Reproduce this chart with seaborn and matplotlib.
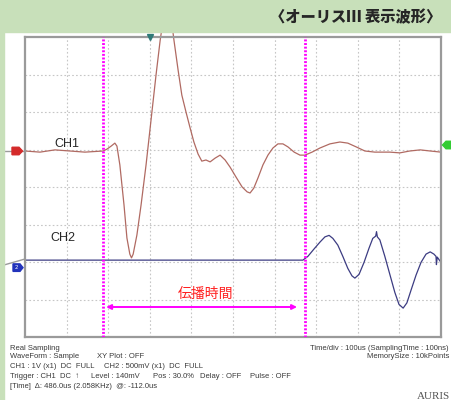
import numpy as np
import pandas as pd
import matplotlib
matplotlib.use("Agg")
import matplotlib.pyplot as plt
from matplotlib.patches import Rectangle, Polygon
from matplotlib.lines import Line2D
from matplotlib.transforms import blended_transform_factory
import seaborn as sns

# ---- acquisition settings -------------------------------------------------
T_START, T_END = -300.0, 700.0        # us, 100 us/div, trigger at 30 %
CH1_SCALE = 1.0                       # V/div
CH2_SCALE = 0.5                       # V/div
CURSOR_A = -112.0                     # us
CURSOR_DELTA = 486.0                  # us

# ---- CH1 waveform (time in us, voltage in V) -------------------------------
ch1_time = [-300, -264, -228, -192, -156, -112, -103, -93, -84, -79,
            -72, -62, -55, -48, -44, -40, -31, -21, -9, 3,
            15, 25, 34, 41, 49, 58, 68, 77, 87, 97,
            106, 116, 125, 135, 145, 157, 169, 181, 193, 207,
            222, 234, 241, 250, 260, 272, 284, 296, 308, 320,
            332, 347, 361, 373, 390, 409, 433, 457, 476, 496,
            517, 541, 577, 601, 625, 650, 674, 700]
ch1_volt = [0.0, -0.03, 0.03, 0.0, -0.03, 0.0, 0.05, 0.13, 0.21, 0.13,
            -0.37, -1.44, -2.32, -2.75, -2.85, -2.75, -2.24, -1.44, -0.37, 0.83,
            2.03, 2.96, 3.63, 3.89, 3.76, 2.96, 2.16, 1.49, 1.04, 0.61,
            0.24, -0.08, -0.27, -0.24, -0.29, -0.19, -0.11, -0.24, -0.43, -0.69,
            -0.96, -1.09, -1.12, -0.99, -0.72, -0.37, -0.11, 0.08, 0.19, 0.19,
            0.11, -0.03, -0.11, -0.11, -0.03, 0.08, 0.19, 0.24, 0.21, 0.11,
            0.0, -0.03, -0.03, -0.05, 0.0, 0.03, 0.0, -0.03]

# ---- CH2 waveform ----------------------------------------------------------
ch2_time = [-300, 368, 380, 395, 409, 421, 431, 440, 452, 464,
            476, 486, 493, 503, 515, 527, 536, 543, 545, 547,
            553, 565, 577, 589, 599, 609, 618, 628, 640, 652,
            664, 674, 683, 688, 689, 691, 700]
ch2_volt = [0.0, 0.0, 0.05, 0.15, 0.24, 0.31, 0.33, 0.29, 0.2, 0.05,
            -0.11, -0.21, -0.24, -0.19, -0.03, 0.16, 0.29, 0.32, 0.38, 0.31,
            0.27, 0.05, -0.19, -0.43, -0.59, -0.64, -0.57, -0.4, -0.2, -0.03,
            0.08, 0.11, 0.08, 0.05, -0.06, 0.04, -0.03]

# ---- texts -----------------------------------------------------------------
title = "〈オーリスⅢ 表示波形〉"
delay_label = "伝播時間"
info_left = [
    [("Real Sampling", 10)],
    [("WaveForm : Sample", 10), ("XY Plot : OFF", 97)],
    [("CH1 : 1V (x1)  DC  FULL", 10), ("CH2 : 500mV (x1)  DC  FULL", 104)],
    [("Trigger : CH1  DC  ↑", 10), ("Level : 140mV", 91), ("Pos : 30.0%", 153),
     ("Delay : OFF", 200), ("Pulse : OFF", 250)],
    [("[Time]  Δ: 486.0us (2.058KHz)  @: -112.0us", 10)],
]
info_right = ["Time/div : 100us (SamplingTime : 100ns)",
              "MemorySize : 10kPoints"]

# ---- styling ---------------------------------------------------------------
W, H = 451, 400
CH1_POS, CH2_POS = 0.96, -1.95        # trace positions in divisions
CH1_COLOR, CH2_COLOR = "#b06a62", "#3c3c82"
CURSOR_COLOR = "#ff00ff"
HEADER_GREEN = "#c8e0ba"
INFO_FONT = ["Liberation Sans", "DejaVu Sans"]

sns.set_style("white")
plt.rcParams["font.family"] = ["DejaVu Sans"]

df = pd.concat([
    pd.DataFrame({"time": ch1_time,
                  "div": CH1_POS + np.asarray(ch1_volt) / CH1_SCALE,
                  "channel": "CH1"}),
    pd.DataFrame({"time": ch2_time,
                  "div": CH2_POS + np.asarray(ch2_volt) / CH2_SCALE,
                  "channel": "CH2"}),
], ignore_index=True)

fig = plt.figure(figsize=(W / 100, H / 100), dpi=100)
fig.patch.set_facecolor("white")
ax = fig.add_axes([25 / W, 1 - 337 / H, 416 / W, 300 / H])

sns.lineplot(data=df, x="time", y="div", hue="channel",
             palette={"CH1": CH1_COLOR, "CH2": CH2_COLOR},
             estimator=None, sort=False, legend=False, lw=0.9, ax=ax)
for ln in ax.lines:
    ln.set_clip_on(False)

ax.set_xlim(T_START, T_END)
ax.set_ylim(-4, 4)
ax.set_xticks(np.arange(T_START + 100, T_END, 100))
ax.set_yticks(np.arange(-3, 4, 1))
ax.grid(True, color="#c6c6c6", lw=0.8, linestyle=(0, (1.5, 2)))
ax.tick_params(length=0, labelbottom=False, labelleft=False)
ax.set_xlabel("")
ax.set_ylabel("")
for sp in ax.spines.values():
    sp.set_color("#9a9a9a")
    sp.set_linewidth(1.6)

# time cursors and the delay between them
cursor_b = CURSOR_A + CURSOR_DELTA
for c in (CURSOR_A, cursor_b):
    ax.axvline(c, color=CURSOR_COLOR, lw=2.0, linestyle=(0, (0.7, 0.6)), zorder=4)
ax.annotate("", xy=(cursor_b - 20, -3.2), xytext=(CURSOR_A + 7, -3.2),
            arrowprops=dict(arrowstyle="<|-|>", color=CURSOR_COLOR, lw=1.4,
                            mutation_scale=7, shrinkA=0, shrinkB=0), zorder=4)
ax.text(135, -2.85, delay_label, color="#ff2020", fontsize=10,
        ha="center", va="center", family=["Noto Sans CJK JP", "DejaVu Sans"])

ax.text(-199, 1.15, "CH1", fontsize=9, family=["Liberation Sans"],
        ha="center", va="center")
ax.text(-210, -1.36, "CH2", fontsize=9, family=["Liberation Sans"],
        ha="center", va="center")

# trigger position marker on the top edge
ax.plot([0], [4.0], marker="v", ms=4, color="#2f7a78", clip_on=False, zorder=5)

# channel position tags outside the graticule
bt = blended_transform_factory(fig.transFigure, ax.transData)
h = 0.1


def px(x):
    return x / W


fig.add_artist(Line2D([0, px(25)], [CH1_POS, CH1_POS], transform=bt,
                      color="#9a9a9a", lw=1.0))
fig.add_artist(Line2D([0, px(25)], [CH2_POS - 0.16, CH2_POS + 0.03],
                      transform=bt, color="#9a9a9a", lw=1.0))
fig.add_artist(Polygon([(px(12), CH1_POS + h), (px(19), CH1_POS + h),
                        (px(22.5), CH1_POS), (px(19), CH1_POS - h),
                        (px(12), CH1_POS - h)], closed=True, transform=bt,
                       color="#d42a2a", zorder=6))
tag2 = CH2_POS - 0.2
fig.add_artist(Polygon([(px(13), tag2 + h), (px(20), tag2 + h),
                        (px(23), tag2), (px(20), tag2 - h),
                        (px(13), tag2 - h)], closed=True, transform=bt,
                       color="#2233bb", zorder=6))
fig.text(px(16.5), tag2, "2", transform=bt, color="white", fontsize=4,
         ha="center", va="center", zorder=7)
tag3 = 1.12
fig.add_artist(Polygon([(px(442.5), tag3), (px(446), tag3 + h),
                        (px(452), tag3 + h), (px(452), tag3 - h),
                        (px(446), tag3 - h)], closed=True, transform=bt,
                       color="#33cc33", zorder=6))

# header band and left strip
fig.add_artist(Rectangle((0, 1 - 32 / H), 1, 32 / H, transform=fig.transFigure,
                         color=HEADER_GREEN, zorder=10))
fig.add_artist(Rectangle((0, 0), 4 / W, 1, transform=fig.transFigure,
                         color=HEADER_GREEN, zorder=10))
fig.text(441 / W, 1 - 17 / H, title, fontsize=11, fontweight="heavy",
         family=["Noto Sans CJK JP", "DejaVu Sans"], ha="right", va="center",
         zorder=11)

# acquisition info block
info_y = [348, 357, 367, 376, 386]
for y, row in zip(info_y, info_left):
    for txt, x in row:
        fig.text(x / W, 1 - y / H, txt, fontsize=5.5, color="#3a3a3a",
                 family=INFO_FONT, ha="left", va="center")
for txt, y in zip(info_right, info_y):
    fig.text(449 / W, 1 - y / H, txt, fontsize=5.5, color="#3a3a3a",
             family=INFO_FONT, ha="right", va="center")
fig.text(417 / W, 1 - 392 / H, "AURIS", fontsize=8, color="#555555",
         family=["Liberation Serif"], ha="left", va="top")

fig.savefig("out.png", dpi=100)
